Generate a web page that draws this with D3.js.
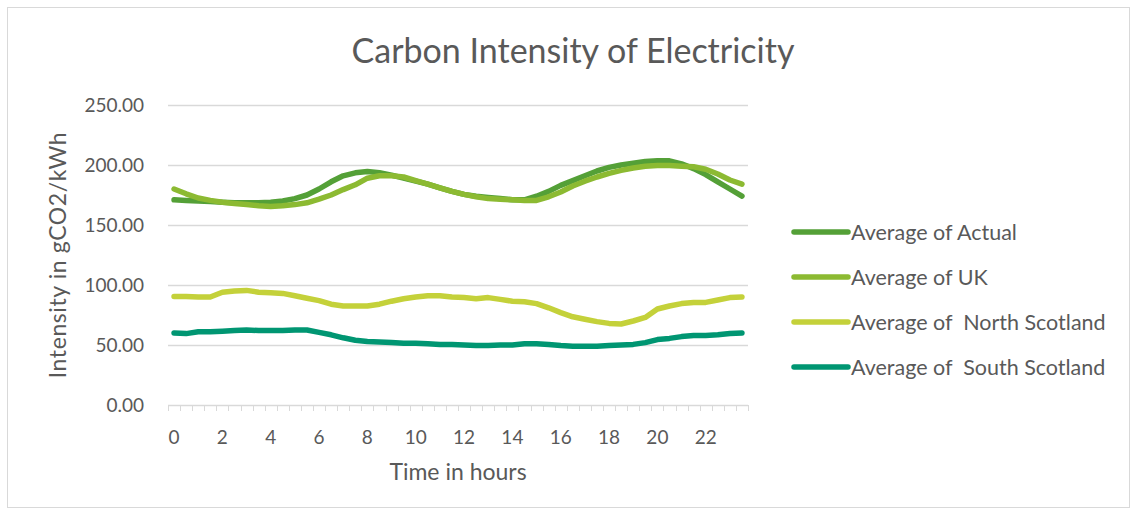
<!DOCTYPE html>
<html>
<head>
<meta charset="utf-8">
<script src="https://cdn.jsdelivr.net/npm/d3@7"></script>
<style>
  html, body { margin: 0; padding: 0; background: #fff; }
  svg text { font-family: Lato, "Open Sans", sans-serif; fill: #595959; white-space: pre; }
</style>
</head>
<body>
<svg id="chart" width="1132" height="515"></svg>
<script>
// Half-hour slots through the day
const hours = [0, 0.5, 1, 1.5, 2, 2.5, 3, 3.5, 4, 4.5, 5, 5.5, 6, 6.5, 7, 7.5,
  8, 8.5, 9, 9.5, 10, 10.5, 11, 11.5, 12, 12.5, 13, 13.5, 14, 14.5, 15, 15.5,
  16, 16.5, 17, 17.5, 18, 18.5, 19, 19.5, 20, 20.5, 21, 21.5, 22, 22.5, 23, 23.5];

// Average carbon intensity, gCO2/kWh
const actual = [171, 170.5, 170, 169.5, 169, 168.5, 168.5, 168.5, 169, 170, 172, 175,
  180, 186, 191, 193.5, 194.5, 193.5, 191.5, 189, 186.5, 184, 181, 178,
  175.5, 174, 173, 172, 171, 171, 174, 178, 183, 187, 191, 195,
  198, 200, 201.5, 203, 203.5, 203.5, 201, 197, 192, 186, 180, 174];
const uk = [180, 176, 172.5, 170.5, 169, 168, 167, 166, 165.5, 166, 167, 168.5,
  171.5, 175, 179.5, 183.5, 189, 191, 191, 190, 187, 184, 181, 178,
  175.5, 173.5, 172, 171.5, 171, 170.5, 170.5, 173.5, 177.5, 182.5, 186.5, 190,
  193, 195.5, 197.5, 199, 199.5, 199.5, 199, 198.5, 196.5, 192.5, 187.5, 184];
const northScotland = [90.5, 90.5, 90, 90, 94, 95, 95.5, 94, 93.5, 93, 91, 89,
  87, 84, 82.5, 82.5, 82.5, 84, 86.5, 88.5, 90, 91, 91, 90,
  89.5, 88.5, 89.5, 88, 86.5, 86, 84.5, 81, 77, 73.5, 71.5, 69.5,
  68, 67.5, 70, 73, 80, 82.5, 84.5, 85.5, 85.5, 87.5, 89.5, 90];
const southScotland = [60, 59.5, 61, 61, 61.5, 62, 62.5, 62, 62, 62, 62.5, 62.5,
  60.5, 58.5, 56, 54, 53, 52.5, 52, 51.5, 51.5, 51, 50.5, 50.5,
  50, 49.5, 49.5, 50, 50, 51, 51, 50.5, 49.5, 49, 49, 49,
  49.5, 50, 50.5, 52, 54.5, 55.5, 57, 58, 58, 58.5, 59.5, 60];

const seriesNames = ["Average of Actual", "Average of UK", "Average of  North Scotland", "Average of  South Scotland"];
const seriesColors = ["#54a037", "#8cba32", "#c4d13a", "#009672"];
const seriesValues = [actual, uk, northScotland, southScotland];

const yTicks = [0, 50, 100, 150, 200, 250];
const xTickLabels = ["0", "2", "4", "6", "8", "10", "12", "14", "16", "18", "20", "22"];

const svg = d3.select("#chart");

// Outer chart frame
svg.append("rect")
  .attr("x", 7.5).attr("y", 7.5)
  .attr("width", 1122).attr("height", 500)
  .attr("fill", "#fff").attr("stroke", "#d9d9d9").attr("stroke-width", 1);

const plot = { left: 168, right: 748, top: 105, bottom: 405 };

const x = d3.scaleBand().domain(hours).range([plot.left, plot.right]).padding(0);
const y = d3.scaleLinear().domain([0, 250]).range([plot.bottom, plot.top]);
const xc = h => x(h) + x.bandwidth() / 2;

// Title
svg.append("text")
  .attr("x", 573).attr("y", 63)
  .attr("text-anchor", "middle")
  .style("font-size", "34px")
  .text("Carbon Intensity of Electricity");

// Horizontal gridlines
svg.append("g")
  .selectAll("line")
  .data(yTicks.filter(t => t > 0))
  .join("line")
  .attr("x1", plot.left).attr("x2", plot.right)
  .attr("y1", d => Math.round(y(d)) + 0.5).attr("y2", d => Math.round(y(d)) + 0.5)
  .attr("stroke", "#d9d9d9").attr("stroke-width", 1.5);

// Y axis labels
const yAxis = svg.append("g")
  .attr("transform", `translate(${plot.left - 21},0)`)
  .call(d3.axisLeft(y).tickValues(yTicks).tickSize(0).tickFormat(d3.format(".2f")));
yAxis.select(".domain").remove();
yAxis.selectAll("text").style("font-size", "19px").attr("fill", "#595959").attr("dy", "0.35em");

// X axis line with tick marks between half-hour slots
svg.append("line")
  .attr("x1", plot.left).attr("x2", plot.right)
  .attr("y1", plot.bottom + 0.5).attr("y2", plot.bottom + 0.5)
  .attr("stroke", "#d9d9d9").attr("stroke-width", 1.5);
svg.append("g")
  .selectAll("line")
  .data(hours.concat(["end"]))
  .join("line")
  .attr("x1", d => Math.round(d === "end" ? plot.right : x(d)) + 0.5)
  .attr("x2", d => Math.round(d === "end" ? plot.right : x(d)) + 0.5)
  .attr("y1", plot.bottom).attr("y2", plot.bottom + 6)
  .attr("stroke", "#d9d9d9").attr("stroke-width", 1);

// X axis labels every two hours
const xAxis = svg.append("g")
  .attr("transform", `translate(0,${plot.bottom + 19})`)
  .call(d3.axisBottom(x)
    .tickValues(hours.filter(h => xTickLabels.includes(String(h))))
    .tickSize(0)
    .tickFormat(d => String(d)));
xAxis.select(".domain").remove();
xAxis.selectAll("text").style("font-size", "19px").attr("fill", "#595959").attr("dy", "0.9em");

// Axis titles
svg.append("text")
  .attr("x", 458).attr("y", 480)
  .attr("text-anchor", "middle")
  .style("font-size", "23px")
  .text("Time in hours");
svg.append("text")
  .attr("transform", "translate(66,255) rotate(-90)")
  .attr("text-anchor", "middle")
  .style("font-size", "23px")
  .style("letter-spacing", "0.6px")
  .text("Intensity in gCO2/kWh");

// Series lines
const line = d3.line().x((d, i) => xc(hours[i])).y(d => y(d)).curve(d3.curveLinear);
svg.append("g")
  .selectAll("path")
  .data(seriesValues)
  .join("path")
  .attr("d", d => line(d))
  .attr("fill", "none")
  .attr("stroke", (d, i) => seriesColors[i])
  .attr("stroke-width", 5.5)
  .attr("stroke-linejoin", "round")
  .attr("stroke-linecap", "round");

// Legend
const legend = svg.append("g");
const items = legend.selectAll("g")
  .data(seriesNames)
  .join("g")
  .attr("transform", (d, i) => `translate(794,${232 + i * 45})`);
items.append("line")
  .attr("x1", 0).attr("x2", 54)
  .attr("stroke", (d, i) => seriesColors[i])
  .attr("stroke-width", 5.5)
  .attr("stroke-linecap", "round");
items.append("text")
  .attr("x", 57).attr("dy", "0.35em")
  .style("font-size", "21.5px")
  .text(d => d);
</script>
</body>
</html>
